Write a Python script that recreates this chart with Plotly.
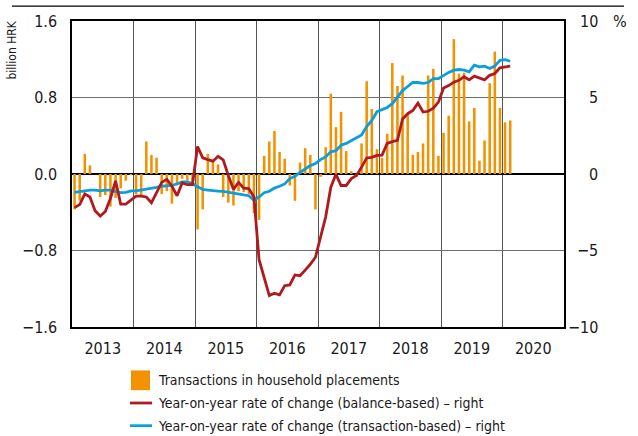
import plotly.graph_objects as go

# Monthly data, January 2013 - February 2020
start_year = 2013
years = ["2013", "2014", "2015", "2016", "2017", "2018", "2019", "2020"]

# Transactions in household placements, billion HRK (left axis)
transactions = [
    -0.37, -0.28, 0.21, 0.09, 0.00, -0.24, -0.22, -0.34, -0.25, -0.15, -0.07, -0.01,
    -0.21, -0.24, 0.34, 0.20, 0.17, -0.21, -0.18, -0.31, -0.10, -0.05, -0.07, -0.09,
    -0.58, -0.37, 0.21, 0.13, 0.10, -0.24, -0.30, -0.33, -0.18, -0.19, -0.21, -0.41,
    -0.48, 0.19, 0.34, 0.45, 0.23, 0.16, -0.12, -0.28, 0.12, 0.27, 0.20, -0.37,
    -0.03, 0.28, 0.84, 0.49, 0.65, 0.24, 0.03, -0.03, 0.32, 0.97, 0.68, 0.26,
    0.17, 0.42, 1.16, 0.92, 1.03, 0.62, 0.20, 0.23, 0.32, 1.03, 1.10, 0.19,
    0.43, 0.61, 1.41, 1.05, 1.06, 0.55, 0.69, 0.14, 0.35, 0.95, 1.28, 0.69,
    0.54, 0.56,
]

# Year-on-year rate of change, balance-based, % (right axis)
yoy_balance = [
    -2.2, -2.0, -1.3, -1.5, -2.4, -2.75, -2.45, -1.6, -0.45, -1.97, -1.97, -1.7,
    -1.45, -1.45, -1.5, -1.88, -1.2, -0.55, -0.35, -0.8, -1.42, -0.58, -0.7, -0.7,
    1.8, 1.05, 0.94, 0.84, 1.16, 0.92, -0.1, -1.0, -0.55, -0.92, -0.95, -1.5,
    -5.6, -6.8, -7.95, -7.8, -7.9, -7.3, -7.25, -6.6, -6.65, -6.28, -5.9, -5.44,
    -4.13, -2.8, -0.86, -0.02, -0.75, -0.75, -0.3, -0.1, 0.45, 1.05, 1.09, 1.22,
    1.24, 2.0, 2.12, 2.2, 3.6, 3.94, 4.15, 4.63, 4.05, 4.1, 4.3, 4.7,
    5.62, 5.78, 6.0, 6.12, 6.36, 6.15, 6.4, 6.3, 6.15, 6.45, 6.57, 6.94,
    7.0, 7.05,
]

# Year-on-year rate of change, transaction-based, % (right axis)
yoy_transaction = [
    -1.2, -1.15, -1.1, -1.05, -1.05, -1.1, -1.05, -1.05, -1.15, -1.22, -1.2, -1.1,
    -1.1, -1.05, -1.0, -0.95, -0.88, -0.8, -0.77, -0.75, -0.65, -0.52, -0.52, -0.62,
    -0.83, -1.0, -1.05, -1.1, -1.12, -1.13, -1.2, -1.26, -1.3, -1.37, -1.42, -1.72,
    -1.5, -1.22, -1.13, -0.92, -0.8, -0.65, -0.3, -0.15, 0.1, 0.3, 0.55, 0.68,
    0.94, 1.12, 1.45, 1.52, 1.88, 2.0, 2.18, 2.36, 2.55, 3.1, 3.5, 4.07,
    4.2, 4.35, 4.6, 5.0, 5.45, 5.72, 5.98, 5.98, 5.93, 5.98, 6.23, 6.23,
    6.45, 6.64, 6.79, 6.83, 6.79, 6.68, 7.11, 7.0, 7.05, 6.9, 7.05, 7.43,
    7.47, 7.37,
]

series_names = [
    "Transactions in household placements",
    "Year-on-year rate of change (balance-based) \u2013 right",
    "Year-on-year rate of change (transaction-based) \u2013 right",
]

left_ticks = [-1.6, -0.8, 0.0, 0.8, 1.6]
right_ticks = [-10, -5, 0, 5, 10]

ORANGE = "#F39200"
RED = "#B2191E"
BLUE = "#0A9EDC"
TEXT = "#1a1a1a"
FONT = "Liberation Sans Narrow, DejaVu Sans Condensed, Arial Narrow, sans-serif"

# figure / plot-area geometry in pixels
FIG_W, FIG_H = 638, 436
PLOT_L, PLOT_R, PLOT_T, PLOT_B = 72, 564, 17, 327
plot_w, plot_h = PLOT_R - PLOT_L, PLOT_B - PLOT_T


def px_x(px):
    return (px - PLOT_L) / plot_w


def px_y(py):
    return (PLOT_B - py) / plot_h


# month midpoints as decimal years
x = [start_year + (i + 0.5) / 12 for i in range(len(transactions))]
year_starts = [start_year + k for k in range(len(years) + 1)]
year_mids = [start_year + k + 0.5 for k in range(len(years))]

fig = go.Figure()

fig.add_trace(go.Bar(
    x=x, y=transactions, name=series_names[0],
    marker=dict(color=ORANGE, line=dict(width=0)), yaxis="y",
))
fig.add_trace(go.Scatter(
    x=x, y=yoy_transaction, mode="lines", yaxis="y2", name=series_names[2],
    line=dict(color=BLUE, width=2.8),
))
fig.add_trace(go.Scatter(
    x=x, y=yoy_balance, mode="lines", yaxis="y2", name=series_names[1],
    line=dict(color=RED, width=2.8),
))

fig.update_layout(
    width=FIG_W, height=FIG_H,
    margin=dict(l=PLOT_L, r=FIG_W - PLOT_R, t=PLOT_T, b=FIG_H - PLOT_B),
    paper_bgcolor="white", plot_bgcolor="white",
    font=dict(family=FONT, size=16, color=TEXT),
    bargap=0.5, showlegend=False,
    xaxis=dict(
        range=[year_starts[0], year_starts[-1]],
        tickvals=year_mids, ticktext=years,
        showgrid=False, zeroline=False,
        showline=True, mirror=True, linecolor="black", linewidth=1.5,
        ticks="outside", ticklen=6, tickcolor="rgba(0,0,0,0)",
        minor=dict(tickvals=year_starts[1:-1], showgrid=True,
                   gridcolor="#555555", gridwidth=1.2),
    ),
    yaxis=dict(
        range=[left_ticks[0], left_ticks[-1]],
        tickvals=left_ticks, tickformat=".1f",
        showgrid=True, gridcolor="#6e6e6e", gridwidth=1.2,
        zeroline=True, zerolinecolor="black", zerolinewidth=1.5,
        showline=True, mirror=True, linecolor="black", linewidth=1.5,
        ticks="outside", ticklen=10, tickcolor="rgba(0,0,0,0)",
    ),
    yaxis2=dict(
        range=[right_ticks[0], right_ticks[-1]], overlaying="y", side="right",
        showgrid=False, zeroline=False, showticklabels=False, showline=False,
    ),
)

# right-axis labels, right-aligned
for v in right_ticks:
    label = str(v).replace("-", "\u2212")
    fig.add_annotation(
        x=px_x(600), y=v, xref="paper", yref="y2", text=label, showarrow=False,
        xanchor="right", yanchor="middle", font=dict(family=FONT, size=16, color=TEXT),
    )
fig.add_annotation(
    x=px_x(611), y=right_ticks[-1], xref="paper", yref="y2", text="%", showarrow=False,
    xanchor="left", yanchor="middle", font=dict(family=FONT, size=16, color=TEXT),
)
fig.add_annotation(
    x=px_x(12), y=px_y(15), xref="paper", yref="paper", text="billion HRK",
    showarrow=False, textangle=-90, xanchor="center", yanchor="top",
    font=dict(family=FONT, size=12, color=TEXT),
)
# thin rule across the top of the figure
fig.add_shape(
    type="line", xref="paper", yref="paper", x0=px_x(12), x1=px_x(624),
    y0=px_y(2), y1=px_y(2), line=dict(color="black", width=1.2),
)

# key below the chart
row_y = [381, 404, 427]
fig.add_shape(
    type="rect", xref="paper", yref="paper", x0=px_x(131), x1=px_x(150),
    y0=px_y(row_y[0] + 10), y1=px_y(row_y[0] - 10),
    fillcolor=ORANGE, line=dict(width=0),
)
for ry, color in zip(row_y[1:], [RED, BLUE]):
    fig.add_shape(
        type="line", xref="paper", yref="paper", x0=px_x(130), x1=px_x(152),
        y0=px_y(ry), y1=px_y(ry), line=dict(color=color, width=2.8),
    )
for ry, name in zip(row_y, series_names):
    fig.add_annotation(
        x=px_x(156), y=px_y(ry), xref="paper", yref="paper", text=name,
        showarrow=False, xanchor="left", yanchor="middle",
        font=dict(family=FONT, size=14, color=TEXT),
    )

fig.write_html("out.html")
